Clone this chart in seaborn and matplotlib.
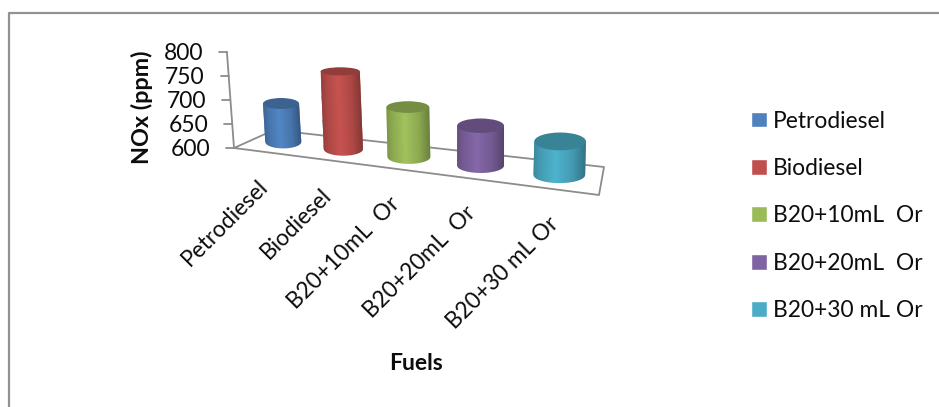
import matplotlib
matplotlib.use("Agg")
import numpy as np
import pandas as pd
import matplotlib.pyplot as plt
import seaborn as sns
from matplotlib.path import Path
from matplotlib.patches import Ellipse
from matplotlib.transforms import Affine2D
from matplotlib.colors import to_rgb

# Fuel blends and their measured NOx emissions (ppm)
fuels = ["Petrodiesel", "Biodiesel", "B20+10mL  Or", "B20+20mL  Or", "B20+30 mL Or"]
nox_ppm = [680, 762, 704, 683, 670]
y_ticks = [600, 650, 700, 750, 800]
palette = ["#4F81BD", "#C0504D", "#9BBB59", "#8064A2", "#4BACC6"]

W, H = 939, 407
GRAY = "#8C8C8C"
INK = "#0D0D0D"
FONT = "Lato"

sns.set_theme(style="white")
plt.rcParams["font.family"] = [FONT, "DejaVu Sans"]

fig = plt.figure(figsize=(W / 100, H / 100), dpi=100)
fig.patch.set_facecolor("white")

# Axes carrying the value scale: 600-800 ppm over the height of the vertical axis
ax = fig.add_axes([234 / W, (H - 148) / H, 365 / W, 96 / H])
df = pd.DataFrame({"fuel": fuels, "nox": nox_ppm})
sns.barplot(data=df, x="fuel", y="nox", hue="fuel", palette=palette,
            hue_order=fuels, order=fuels, dodge=False, saturation=1,
            legend=True, ax=ax, width=0.8)
ax.set_xlim(-0.5, 4.5)
ax.set_ylim(600, 800)
ax.set_axis_off()

# Screen-pixel coordinates with the origin at the top left
px = Affine2D().scale(1, -1).translate(0, H)

# Perspective map from the floor plane (category position, depth) to pixels
src = np.array([[0, 0], [5, 0], [5, 1], [0, 1]], float)
dst = np.array([[234, 148], [599, 195], [604, 167], [274, 130]], float)
A = []
for (u, v), (x, y) in zip(src, dst):
    A.append([u, v, 1, 0, 0, 0, -u * x, -v * x, -x])
    A.append([0, 0, 0, u, v, 1, -u * y, -v * y, -y])
homog = np.linalg.svd(np.array(A))[2][-1].reshape(3, 3)


def floor(u, v):
    p = homog @ np.array([u, v, 1.0])
    return p[:2] / p[2]


units = ax.transData.transform((0, 700))[1] - ax.transData.transform((0, 600))[1]
px_per_ppm = units / 100
LEAN = 3e-4
VANISH_X = 480


def lean(x):
    return LEAN * (x - VANISH_X)


# Floor outline and the slanted value axis
floor_outline = np.array([floor(0, 0), floor(5, 0), floor(5, 1), floor(0, 1), floor(0, 0)])
ax.plot(*floor_outline.T, color=GRAY, lw=1.3, transform=px, clip_on=False, zorder=1)
ox, oy = floor(0, 0)
ends = [(ox + lean(ox) * (t - 600) * px_per_ppm, oy - (t - 600) * px_per_ppm) for t in y_ticks]
ax.plot([ends[0][0], ends[-1][0]], [ends[0][1], ends[-1][1]], color=GRAY, lw=1.3,
        transform=px, clip_on=False, zorder=1)
for t, (x, y) in zip(y_ticks, ends):
    ax.plot([x - 8, x], [y, y], color=GRAY, lw=1.3, transform=px, clip_on=False, zorder=1)
    ax.text(x - 24, y + 2, str(t), ha="right", va="center", fontsize=16.5,
            color=INK, transform=px, clip_on=False)

# Horizontal shading across a cylinder body
stops = np.linspace(0, 1, 64)
shade = np.interp(stops, [0, 0.12, 0.42, 0.75, 1], [0.80, 0.90, 1.04, 0.90, 0.68])

for i, (cont, value, colour) in enumerate(zip(ax.containers, nox_ppm, palette)):
    bar = cont.patches[0]
    bar.set_y(600)
    bar.set_height(value - 600)
    x0, bw = bar.get_x(), bar.get_width()

    bx, by = floor(i + 0.5, 0.5)
    spacing = np.linalg.norm(floor(i + 1, 0.5) - floor(i, 0.5))
    w = spacing * 0.62
    h = (value - 600) * px_per_ppm
    shear = lean(bx) * px_per_ppm
    top_x, top_y = bx + shear * (value - 600), by - h
    semi_top = 7.1 + 0.2 * i ** 2 - 0.02 * (value - 600)
    semi_bot = 6.5 + 0.1 * i ** 2

    # Places this bar's data rectangle on its cylinder
    bar_tf = Affine2D(np.array([
        [w / bw, shear, bx - i * w / bw - 600 * shear],
        [0, -px_per_ppm, by + 600 * px_per_ppm],
        [0, 0, 1],
    ])) + px
    bar.set_transform(bar_tf)
    bar.set_clip_on(False)
    bar.set_zorder(2)
    bar.set_edgecolor("none")

    # Outline of the side wall with its rounded lower edge
    theta = np.linspace(np.pi, 0, 40)
    low = np.c_[bx + w / 2 * np.cos(theta), by + semi_bot * np.sin(theta)]
    wall = np.vstack([[top_x - w / 2, top_y], low, [top_x + w / 2, top_y], [top_x - w / 2, top_y]])
    clip = Path(wall)

    rgb = np.clip(np.outer(shade, to_rgb(colour)), 0, 1)[None, :, :]
    below = (semi_bot + 2) / px_per_ppm
    im = ax.imshow(rgb, extent=(x0, x0 + bw, 600 - below, value), aspect="auto",
                   interpolation="bilinear", zorder=3, origin="lower")
    im.set_transform(bar_tf)
    im.set_clip_box(fig.bbox)
    im.set_clip_path(clip, px)

    cap = Ellipse((top_x, top_y), w, 2 * semi_top, facecolor=np.array(to_rgb(colour)) * 0.76,
                  edgecolor="none", transform=px, zorder=4, clip_on=False)
    ax.add_patch(cap)

    # Category label running up to the right below the floor edge
    fx, fy = floor(i + 0.5, 0)
    ax.text(fx - 6, fy + 24, fuels[i], rotation=45, rotation_mode="anchor",
            ha="right", va="top", fontsize=16.3, color=INK, transform=px, clip_on=False)

ax.set_xlim(-0.5, 4.5)
ax.set_ylim(600, 800)

# Axis titles
ax.text(142, 107, "NOx (ppm)", rotation=90, ha="center", va="center", fontsize=16.8,
        fontweight="bold", color=INK, transform=px, clip_on=False)
ax.text(416, 364, "Fuels", ha="center", va="center", fontsize=16.5, fontweight="bold",
        color=INK, transform=px, clip_on=False)

# Legend on the right, with square keys
handles, labels = ax.get_legend_handles_labels()
leg = ax.legend(handles, labels, loc="upper left", bbox_to_anchor=(751 / W, 1 - 110.5 / H),
                bbox_transform=fig.transFigure, frameon=False, fontsize=16.4,
                handlelength=0.69, handleheight=0.69, handletextpad=0.28,
                labelspacing=1.16, borderpad=0, borderaxespad=0)
for t in leg.get_texts():
    t.set_color(INK)

# Chart frame
frame_x = [8.5, 8.5, W]
frame_y = [H, 12.5, 12.5]
ax.plot(frame_x, frame_y, color="#929292", lw=1.6, transform=px, clip_on=False, zorder=0)

fig.savefig("out.png", dpi=100)
